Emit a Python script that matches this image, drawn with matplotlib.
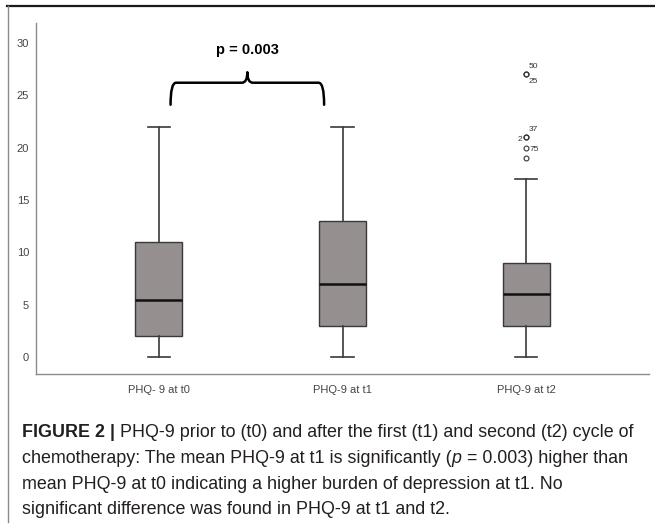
import matplotlib
matplotlib.use("Agg")
import matplotlib.pyplot as plt
from matplotlib.lines import Line2D
from matplotlib.path import Path
from matplotlib.patches import PathPatch

# data
labels = ["PHQ- 9 at t0", "PHQ-9 at t1", "PHQ-9 at t2"]
whis_low = [0, 0, 0]
q1 = [2, 3, 3]
medians = [5.5, 7, 6]
q3 = [11, 13, 9]
whis_high = [22, 22, 17]
fliers = [[], [], [27, 27, 21, 21, 20, 19]]
flier_ids = ["50", "25", "37", "2", "75", ""]
flier_offsets = [(5, 5.5), (5, -5.5), (5, 5.5), (-4.5, -2), (5.5, -1.5), (0, 0)]
p_text = "p = 0.003"

plt.rcParams['font.family'] = ['Liberation Sans', 'DejaVu Sans']

fig = plt.figure(figsize=(6.55, 5.31), dpi=100)
ax = fig.add_axes([36 / 655, 1 - 374 / 531, (649 - 36) / 655, (374 - 23) / 531])

stats = []
for i in range(3):
    stats.append(dict(label=labels[i], whislo=whis_low[i], q1=q1[i], med=medians[i],
                      q3=q3[i], whishi=whis_high[i], fliers=fliers[i]))

ax.bxp(stats, positions=[1, 2, 3], widths=0.255, patch_artist=True,
       boxprops=dict(facecolor='#958f8f', edgecolor='#3a3a3a', linewidth=1.0),
       medianprops=dict(color='#111111', linewidth=1.8),
       whiskerprops=dict(color='#3a3a3a', linewidth=1.2),
       capprops=dict(color='#3a3a3a', linewidth=1.2),
       capwidths=0.12,
       flierprops=dict(marker='o', markersize=3.5, markerfacecolor='none',
                       markeredgecolor='#333333', markeredgewidth=0.8))

# case numbers next to the outliers
for val, lab, off in zip(fliers[2], flier_ids, flier_offsets):
    if lab:
        ax.annotate(lab, (3, val), xytext=off, textcoords='offset points',
                    ha='center', va='center', fontsize=6, color='#333333')

ax.set_xlim(1 / 3, 3 + 2 / 3)
ax.set_ylim(-1.6, 31.9)
ax.set_yticks([0, 5, 10, 15, 20, 25, 30])
ax.tick_params(axis='both', length=0, labelsize=8, labelcolor='#444444')
ax.tick_params(axis='y', pad=5)
ax.tick_params(axis='x', pad=8)
for s in ['top', 'right']:
    ax.spines[s].set_visible(False)
for s in ['left', 'bottom']:
    ax.spines[s].set_color('#8a8a8a')
    ax.spines[s].set_linewidth(1.0)

# curly brace between t0 and t1
x0, x1 = 1.065, 1.90
xm = (x0 + x1) / 2
y_end, y_h, y_tip = 24.1, 26.2, 27.2
r = 0.03
verts = [(x0, y_end), (x0, y_h), (x0 + r, y_h),
         (xm - r, y_h), (xm, y_h), (xm, y_tip),
         (xm, y_h), (xm + r, y_h),
         (x1 - r, y_h), (x1, y_h), (x1, y_end)]
codes = [Path.MOVETO, Path.CURVE3, Path.CURVE3,
         Path.LINETO, Path.CURVE3, Path.CURVE3,
         Path.CURVE3, Path.CURVE3,
         Path.LINETO, Path.CURVE3, Path.CURVE3]
ax.add_patch(PathPatch(Path(verts, codes), facecolor='none', edgecolor='black',
                       linewidth=1.8, capstyle='round', joinstyle='round'))
ax.text(xm, 29.3, p_text, ha='center', va='center', fontsize=10.5,
        fontweight='bold', color='black')

# frame of the figure panel
fig.add_artist(Line2D([7 / 655, 1], [1 - 6 / 531, 1 - 6 / 531], color='#1a1a1a', linewidth=1.6))
fig.add_artist(Line2D([8 / 655, 8 / 655], [1 - 6 / 531, 1 - 522 / 531], color='#8a8a8a', linewidth=1.0))

# caption
renderer = fig.canvas.get_renderer()
cap_font = ['Liberation Sans Narrow', 'Liberation Sans']
cap_size = 12.9
cap_color = '#231f20'


def write_line(parts, y):
    x = 22 / 655
    for txt, weight, style in parts:
        t = fig.text(x, y, txt, fontsize=cap_size, fontweight=weight, fontstyle=style,
                     family=cap_font, color=cap_color, va='baseline', ha='left')
        bb = t.get_window_extent(renderer)
        x += bb.width / fig.bbox.width


write_line([("FIGURE 2 |", 'bold', 'normal'),
            (" PHQ-9 prior to (t0) and after the first (t1) and second (t2) cycle of", 'normal', 'normal')],
           1 - 437 / 531)
write_line([("chemotherapy: The mean PHQ-9 at t1 is significantly (", 'normal', 'normal'),
            ("p", 'normal', 'italic'),
            (" = 0.003) higher than", 'normal', 'normal')],
           1 - 463 / 531)
write_line([("mean PHQ-9 at t0 indicating a higher burden of depression at t1. No", 'normal', 'normal')],
           1 - 489 / 531)
write_line([("significant difference was found in PHQ-9 at t1 and t2.", 'normal', 'normal')],
           1 - 514 / 531)

fig.savefig("out.png", dpi=100)
